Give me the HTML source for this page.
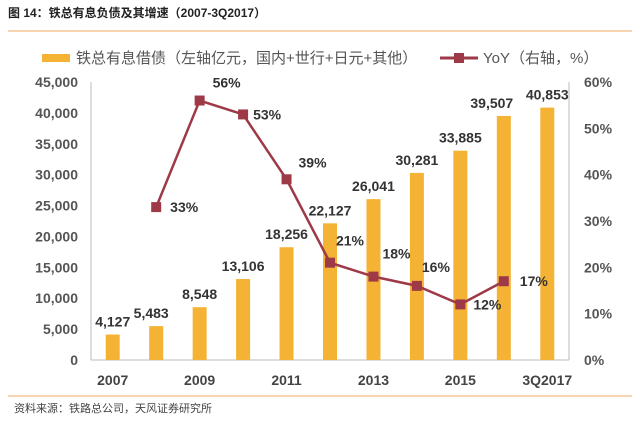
<!DOCTYPE html>
<html><head><meta charset="utf-8"><style>
body{margin:0;background:#fff;width:640px;height:419px;overflow:hidden;font-family:"Liberation Sans","Noto Sans CJK SC",sans-serif}
svg text{font-family:"Liberation Sans","Noto Sans CJK SC",sans-serif}
</style></head><body>
<svg id="c" width="640" height="419">
<text x="8" y="17" font-size="12" font-weight="bold" fill="#222">图 14：铁总有息负债及其增速（2007-3Q2017）</text>
<line x1="8" y1="31" x2="632" y2="31" stroke="#f0a860" stroke-width="1"/>
<line x1="8" y1="396" x2="632" y2="396" stroke="#f0a860" stroke-width="1"/>
<text x="14" y="412" font-size="11" fill="#444">资料来源：铁路总公司，天风证券研究所</text>
<g>
<rect x="42" y="54" width="28" height="8" fill="#f5b335"/>
<text x="76" y="63" font-size="15" fill="#555">铁总有息借债（左轴亿元，国内+世行+日元+其他）</text>
<line x1="440" y1="58" x2="478" y2="58" stroke="#9e3a48" stroke-width="3"/>
<rect x="454" y="53" width="10" height="10" fill="#9e3a48"/>
<text x="483" y="63" font-size="15" fill="#555">YoY（右轴，%）</text>
</g>
<g id="g"></g>
</svg>
<script>
const categories=["2007","2008","2009","2010","2011","2012","2013","2014","2015","2016","3Q2017"];
const debt=[4127,5483,8548,13106,18256,22127,26041,30281,33885,39507,40853];
const yoy=[null,33,56,53,39,21,18,16,12,17,null];
const leftTicks=[0,5000,10000,15000,20000,25000,30000,35000,40000,45000];
const rightTicks=[0,10,20,30,40,50,60];
const xLabels=["2007","2009","2011","2013","2015","3Q2017"];
const X0=91,X1=569,Y0=360,Y1=82;
const step=(X1-X0)/categories.length;
const x=i=>X0+step*(i+0.5);
const yL=v=>Y0-(v/45000)*(Y0-Y1);
const yR=v=>Y0-(v/60)*(Y0-Y1);
const g=document.getElementById('g');
const NS="http://www.w3.org/2000/svg";
function mk(t,a,txt){const e=document.createElementNS(NS,t);for(const k in a)e.setAttribute(k,a[k]);if(txt!=null)e.textContent=txt;g.appendChild(e);return e;}
let e;
e=mk('line',{x1:X0,y1:Y1,x2:X0,y2:Y0,stroke:'#bbb'});


e=mk('line',{x1:X1,y1:Y1,x2:X1,y2:Y0,stroke:'#bbb'});


e=mk('line',{x1:X0,y1:Y0,x2:X1,y2:Y0,stroke:'#bbb'});


leftTicks.forEach(v=>{e=mk('text',{x:78,y:yL(v)+5,'font-size':14,'font-weight':'bold','text-anchor':'end',fill:'#555'},v.toLocaleString('en-US'));

});
rightTicks.forEach(v=>{e=mk('text',{x:584,y:yR(v)+5,'font-size':14,'font-weight':'bold',fill:'#555'},v+'%');

});
categories.forEach((c,i)=>{
 if(xLabels.includes(c)){e=mk('text',{x:x(i),y:385,'font-size':14,'font-weight':'bold','text-anchor':'middle',fill:'#444'},c);
 
 }
 e=mk('rect',{x:x(i)-7,y:yL(debt[i]),width:14,height:Y0-yL(debt[i]),fill:'#f5b335'});
 
 
});
const dx=[0,-5,0,0,0,0,0,0,0,-12,0];
categories.forEach((c,i)=>{
 e=mk('text',{x:x(i)+dx[i],y:yL(debt[i])-8,'font-size':14,'font-weight':'bold','text-anchor':'middle',fill:'#333'},debt[i].toLocaleString('en-US'));
 
 
});
const pts=[];yoy.forEach((v,i)=>{if(v!=null)pts.push([x(i),yR(v),v]);});
e=mk('polyline',{points:pts.map(p=>p[0]+','+p[1]).join(' '),fill:'none',stroke:'#9e3a48','stroke-width':2.5});


const lox=[0,28,27,24,26,20,23,19,27,30,0],loy=[0,5,-13,5,-12,-17,-18,-14,5,5,0];
yoy.forEach((v,i)=>{if(v==null)return;
 e=mk('rect',{x:x(i)-5,y:yR(v)-5,width:10,height:10,fill:'#9e3a48'});
 
 
 e=mk('text',{x:x(i)+lox[i],y:yR(v)+loy[i],'font-size':14,'font-weight':'bold','text-anchor':'middle',fill:'#333'},v+'%');
 
 
});
</script>
</body></html>
